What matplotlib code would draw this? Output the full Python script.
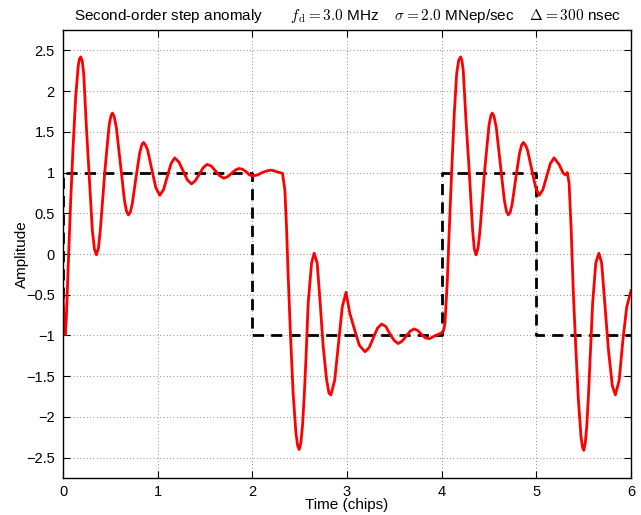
import matplotlib
matplotlib.use("Agg")
import matplotlib.pyplot as plt

# ideal chip sequence (dashed), steps-post
chip_t = [0, 0, 1, 2, 3, 4, 5, 6]
chip_v = [-1, 1, 1, -1, -1, 1, -1, -1]

# distorted signal (time in chips, amplitude)
sig_t = [
    0.000, 0.010, 0.022, 0.035, 0.055, 0.080, 0.105, 0.134, 0.160, 0.172,
    0.187, 0.203, 0.219, 0.247, 0.275, 0.310, 0.332, 0.353, 0.374, 0.394,
    0.441, 0.487, 0.507, 0.522, 0.540, 0.564, 0.607, 0.649, 0.672, 0.691,
    0.710, 0.731, 0.770, 0.810, 0.832, 0.850, 0.870, 0.893, 0.936, 0.979,
    1.022, 1.062, 1.101, 1.141, 1.180, 1.224,
    1.268, 1.313, 1.357, 1.398, 1.440, 1.481, 1.522, 1.566, 1.611, 1.655,
    1.700, 1.740, 1.780, 1.820, 1.860, 1.897, 1.934, 1.971, 2.008, 2.056,
    2.104, 2.152, 2.200, 2.260, 2.319, 2.344, 2.361, 2.379, 2.403, 2.431,
    2.460, 2.478, 2.495, 2.512, 2.530, 2.548, 2.566, 2.590, 2.626, 2.653,
    2.685, 2.714, 2.748, 2.784, 2.810, 2.830, 2.870, 2.910, 2.950, 2.990,
    3.010, 3.030, 3.080, 3.130, 3.190, 3.234, 3.278, 3.322, 3.366, 3.410,
    3.453, 3.497, 3.540, 3.582, 3.624, 3.665, 3.707, 3.748, 3.789, 3.829,
    3.870, 3.935, 4.000, 4.020, 4.035, 4.060, 4.080, 4.105, 4.133, 4.158,
    4.180, 4.200, 4.215, 4.228, 4.257, 4.292, 4.327, 4.345, 4.363, 4.384,
    4.405, 4.452, 4.500, 4.520, 4.535, 4.553, 4.577, 4.620, 4.662, 4.685,
    4.704, 4.723, 4.744, 4.783, 4.823, 4.845, 4.863, 4.883, 4.906, 4.949,
    4.992, 5.030, 5.069, 5.108, 5.148, 5.187,
    5.240, 5.285, 5.310, 5.328, 5.346, 5.367, 5.391, 5.416, 5.444, 5.472,
    5.487, 5.501, 5.517, 5.533, 5.550, 5.568, 5.595, 5.628, 5.660, 5.690,
    5.726, 5.761, 5.803, 5.835, 5.875, 5.915, 5.955, 6.000,
]
sig_v = [
    -0.48, -0.80, -0.99, -0.80, -0.15, 0.62, 1.28, 1.93, 2.30, 2.39,
    2.42, 2.37, 2.21, 1.56, 1.00, 0.29, 0.06, -0.01, 0.07, 0.29,
    1.00, 1.58, 1.70, 1.73, 1.69, 1.55, 1.10, 0.66, 0.52, 0.48,
    0.51, 0.61, 0.93, 1.24, 1.34, 1.37, 1.34, 1.28, 1.05, 0.82,
    0.72, 0.79, 0.95, 1.11, 1.18, 1.13,
    1.02, 0.91, 0.86, 0.90, 0.98, 1.06, 1.10, 1.08, 1.02, 0.96,
    0.93, 0.95, 0.99, 1.03, 1.05, 1.04, 1.01, 0.97, 0.96, 0.97,
    1.00, 1.02, 1.03, 1.01, 0.99, 0.78, 0.33, -0.28, -0.99, -1.71,
    -2.19, -2.35, -2.40, -2.32, -2.11, -1.75, -1.30, -0.60, -0.11, 0.01,
    -0.11, -0.56, -1.13, -1.54, -1.71, -1.73, -1.55, -1.10, -0.65, -0.47,
    -0.60, -0.73, -0.93, -1.12, -1.20, -1.15, -1.03, -0.91, -0.86, -0.89,
    -0.98, -1.06, -1.10, -1.07, -1.01, -0.95, -0.92, -0.94, -0.99, -1.03,
    -1.04, -1.00, -0.97, -0.94, -0.85, -0.32, 0.29, 1.00, 1.72, 2.21,
    2.38, 2.42, 2.37, 2.25, 1.64, 1.00, 0.29, 0.06, -0.01, 0.07,
    0.29, 1.00, 1.58, 1.70, 1.73, 1.69, 1.55, 1.10, 0.66, 0.52,
    0.48, 0.51, 0.61, 0.93, 1.24, 1.34, 1.37, 1.34, 1.28, 1.05,
    0.82, 0.72, 0.79, 0.95, 1.11, 1.18,
    1.10, 0.99, 0.97, 1.00, 0.87, 0.33, -0.48, -1.13, -1.79, -2.24,
    -2.37, -2.41, -2.32, -2.11, -1.75, -1.30, -0.60, -0.11, 0.01, -0.11,
    -0.64, -1.17, -1.62, -1.73, -1.55, -1.05, -0.65, -0.45,
]

x_ticks = [0, 1, 2, 3, 4, 5, 6]
y_ticks = [-2.5, -2, -1.5, -1, -0.5, 0, 0.5, 1, 1.5, 2, 2.5]

plt.rcParams['font.family'] = ['Liberation Sans', 'DejaVu Sans']
plt.rcParams['mathtext.fontset'] = 'cm'

fig = plt.figure(figsize=(6.41, 5.15), dpi=100)
ax = fig.add_axes([63 / 641, 1 - 478 / 515, 568 / 641, 448 / 515])

ax.plot(chip_t, chip_v, drawstyle='steps-post', color='black', lw=2,
        dashes=(4, 2.6))
ax.plot(sig_t, sig_v, color='red', lw=2)

ax.set_xlim(0, 6)
ax.set_ylim(-2.75, 2.75)
ax.set_xticks(x_ticks)
ax.set_yticks(y_ticks)
ax.set_xticklabels([f"{v:g}" for v in x_ticks])
ax.set_yticklabels([f"{v:g}".replace('-', '\u2212') for v in y_ticks])
ax.tick_params(direction='in', top=True, right=True, length=5, width=0.8,
               labelsize=10.5)
ax.tick_params(axis='x', pad=5)
ax.tick_params(axis='y', pad=6)
ax.grid(True, color='0.4', linestyle=(0, (1, 3)), lw=0.6)
for s in ax.spines.values():
    s.set_linewidth(1)

ax.set_xlabel("Time (chips)", fontsize=11, labelpad=-1)
ax.set_ylabel("Amplitude", fontsize=11, labelpad=-2)
ax.set_title("Second-order step anomaly       $f_{\\mathrm{d}} = 3.0$ MHz    "
             "$\\sigma = 2.0$ MNep/sec    $\\Delta = 300$ nsec",
             fontsize=11, pad=7)

fig.savefig("out.png", dpi=100)
